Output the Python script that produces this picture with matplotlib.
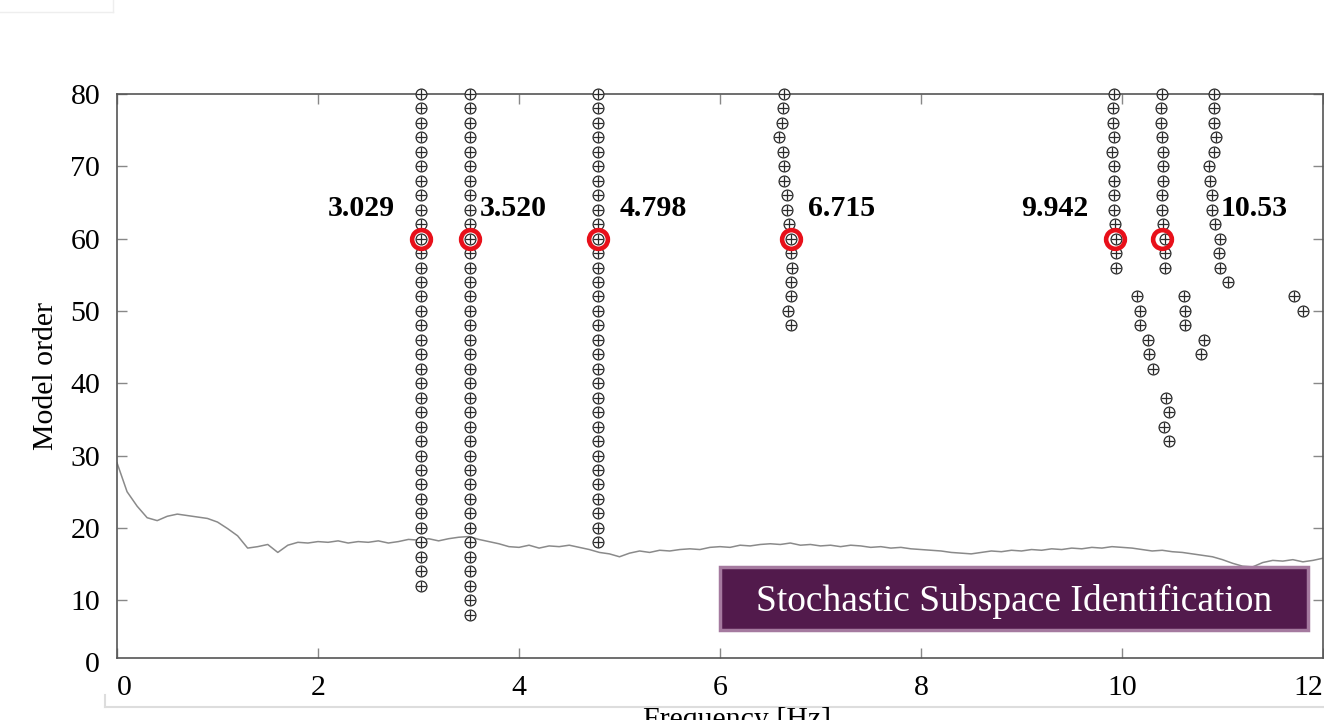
import matplotlib.pyplot as plt
from matplotlib.patches import Rectangle
from matplotlib.lines import Line2D

plt.rcParams['font.family'] = ['Liberation Serif', 'DejaVu Serif']

# stabilisation diagram, model order vs frequency
col1_f = 3.025
col1_n = list(range(80, 10, -2))
col2_f = 3.51
col2_n = list(range(80, 6, -2))
col3_f = 4.786
col3_n = list(range(80, 16, -2))
col4_f = [6.637, 6.63, 6.614, 6.59, 6.624, 6.637, 6.637, 6.664, 6.67, 6.687,
          6.703, 6.703, 6.72, 6.71, 6.703, 6.68, 6.703]
col4_n = list(range(80, 46, -2))
col5_f = [9.92, 9.91, 9.91, 9.92, 9.905, 9.917, 9.917, 9.917, 9.92, 9.93,
          9.945, 9.945, 9.945]
col5_n = list(range(80, 54, -2))
col6_f = [10.40, 10.393, 10.393, 10.40, 10.41, 10.405, 10.405, 10.40, 10.40,
          10.405, 10.425, 10.425, 10.43]
col6_n = list(range(80, 54, -2))
col7_f = [10.915, 10.915, 10.915, 10.935, 10.918, 10.87, 10.876, 10.893, 10.90,
          10.93, 10.975, 10.97, 10.98, 11.05]
col7_n = list(range(80, 52, -2))
# scattered poles
loose_f = [10.146, 10.18, 10.18, 10.255, 10.27, 10.31, 10.435, 10.47, 10.42, 10.47,
           10.62, 10.63, 10.63, 10.82, 10.79, 11.71, 11.80]
loose_n = [52, 50, 48, 46, 44, 42, 38, 36, 34, 32,
           52, 50, 48, 46, 44, 52, 50]

# picked modes
pick_f = [3.025, 3.51, 4.786, 6.703, 9.93, 10.40]
pick_n = [60, 60, 60, 60, 60, 60]
pick_lbl = ['3.029', '3.520', '4.798', '6.715', '9.942', '10.53']
lbl_x = [2.76, 3.61, 5.0, 6.875, 9.67, 10.98]
lbl_ha = ['right', 'left', 'left', 'left', 'right', 'left']

# grey curve (spectrum)
sp_f = [i / 10 for i in range(121)]
sp_v = [29.0, 25.0, 23.0, 21.4, 21.0, 21.6, 21.9, 21.7, 21.5, 21.3,
        20.8, 19.9, 18.9, 17.2, 17.4, 17.7, 16.6, 17.6, 18.0, 17.9,
        18.1, 18.0, 18.2, 17.9, 18.1, 18.0, 18.2, 17.9, 18.1, 18.4,
        18.3, 18.5, 18.2, 18.5, 18.7, 18.8, 18.4, 18.1, 17.8, 17.4,
        17.3, 17.6, 17.2, 17.5, 17.4, 17.6, 17.3, 17.0, 16.6, 16.4,
        16.0, 16.5, 16.8, 16.6, 16.9, 16.8, 17.0, 17.1, 17.0, 17.3,
        17.4, 17.3, 17.6, 17.5, 17.7, 17.8, 17.7, 17.9, 17.6, 17.7,
        17.5, 17.6, 17.4, 17.6, 17.5, 17.3, 17.4, 17.2, 17.3, 17.1,
        17.0, 16.9, 16.8, 16.6, 16.5, 16.4, 16.6, 16.8, 16.7, 16.9,
        16.8, 17.0, 16.9, 17.1, 17.0, 17.2, 17.1, 17.3, 17.2, 17.4,
        17.3, 17.2, 17.0, 16.8, 16.9, 16.7, 16.6, 16.4, 16.2, 16.0,
        15.6, 15.1, 14.7, 14.6, 15.2, 15.5, 15.4, 15.6, 15.3, 15.5,
        15.8]

fig = plt.figure(figsize=(13.24, 7.2), dpi=100)
ax = fig.add_axes([117 / 1324, 1 - 658 / 720, 1206 / 1324, 564 / 720])

ax.plot(sp_f, sp_v, color='#8a8a8a', lw=1.1)

cols = [([col1_f] * len(col1_n), col1_n), ([col2_f] * len(col2_n), col2_n),
        ([col3_f] * len(col3_n), col3_n), (col4_f, col4_n), (col5_f, col5_n),
        (col6_f, col6_n), (col7_f, col7_n), (loose_f, loose_n)]
for f, n in cols:
    ax.plot(f, n, 'o', ls='none', ms=7.8, mfc='white', mec='#2a2a2a', mew=0.9, clip_on=False, zorder=3)
    ax.plot(f, n, '+', ls='none', ms=7.8, color='#2a2a2a', mew=0.9, clip_on=False, zorder=4)

ax.plot(pick_f, pick_n, 'o', ls='none', ms=13.5, mfc='none', mec='#e8101a', mew=3.3, zorder=5)
for x, t, ha in zip(lbl_x, pick_lbl, lbl_ha):
    ax.text(x, 64.2, t, ha=ha, va='center', fontsize=21.5, fontweight='bold')

ax.set_xlim(0, 12)
ax.set_ylim(2, 80)
ax.set_xticks([0, 2, 4, 6, 8, 10, 12])
ax.set_yticks([10, 20, 30, 40, 50, 60, 70, 80])
ax.tick_params(direction='in', length=7, width=1, color='#888888', labelsize=21.5,
               top=True, right=True)
ax.tick_params(axis='x', pad=12)
ax.tick_params(axis='y', pad=12)
ax.get_xticklabels()[0].set_ha('left')
ax.get_xticklabels()[-1].set_ha('right')
for s in ax.spines.values():
    s.set_color('#555555')
    s.set_linewidth(1.2)

ax.set_ylabel('Model order', fontsize=21.5, labelpad=8)
fig.text(100 / 1324, 1 - 665 / 720, '0', ha='right', va='center', fontsize=21.5)
fig.text(737 / 1324, 1 - 720 / 720, 'Frequency [Hz]', ha='center', va='center', fontsize=21.5)

# SSI banner
fig.patches.append(Rectangle((720 / 1324, 1 - 630 / 720), 588 / 1324, 63 / 720,
                             transform=fig.transFigure, facecolor='#521a4c',
                             edgecolor='#a57a9f', lw=2.5, zorder=6))
fig.text(1014 / 1324, 1 - 601 / 720, 'Stochastic Subspace Identification',
         ha='center', va='center', fontsize=27, color='white', zorder=7)

# faint frame lines from the slide
fig.add_artist(Line2D([105 / 1324, 1], [1 - 707 / 720] * 2, color='#dddddd', lw=1.5))
fig.add_artist(Line2D([105 / 1324] * 2, [1 - 707 / 720, 1 - 695 / 720], color='#dddddd', lw=1.5))
fig.add_artist(Line2D([0, 113 / 1324], [1 - 12 / 720] * 2, color='#eeeeee', lw=1))
fig.add_artist(Line2D([113 / 1324] * 2, [1, 1 - 12 / 720], color='#eeeeee', lw=1))

fig.savefig('out.png', dpi=100)
